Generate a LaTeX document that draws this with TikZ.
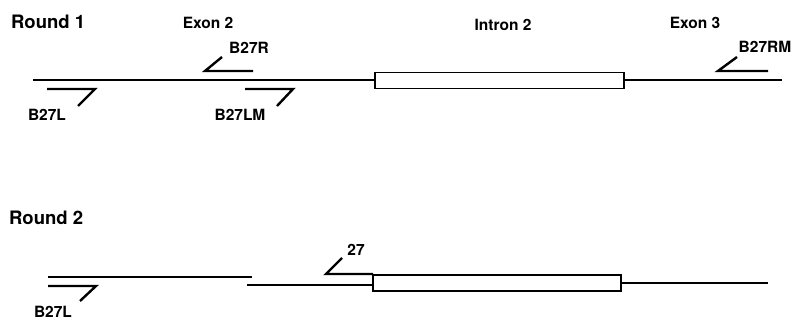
\documentclass[tikz,border=0pt]{standalone}
\usepackage{fontspec}
\setmainfont{TeX Gyre Heros}
\usepackage{tikz}
\usetikzlibrary{calc}

\tikzset{
  strand/.style={line width=2pt},
  primer/.style={line width=2.4pt},
  intron/.style={line width=1.8pt, fill=white},
  lbl/.style={inner sep=0pt, font=\bfseries\fontsize{15.5}{16}\selectfont},
  roundlbl/.style={inner sep=0pt, anchor=west, font=\bfseries\fontsize{18.5}{19}\selectfont}
}

\begin{document}
\begin{tikzpicture}[x=1pt,y=-1pt]
                \useasboundingbox (0,0) rectangle (795,320);
                % round 1
                \node[roundlbl] (R1) at (11,22) {Round 1};
                \node[lbl] (ExII) at (208,23) {Exon 2};
                \node[lbl] (InII) at (503,25) {Intron 2};
                \node[lbl] (ExIII) at (695,23) {Exon 3};
                \coordinate (A1) at (33,80);
                \coordinate (A2) at (375,80);
                \coordinate (A3) at (624,80);
                \coordinate (A4) at (782,80);
                \draw[strand] (A1) -- (A2);
                \draw[strand] (A3) -- (A4);
                \draw[intron] (375,72.5) rectangle (624,88.5);
                % primers, round 1
                \coordinate (L1) at (47,89);
                \coordinate (L2) at (95,89);
                \coordinate (L3) at (78,106);
                \draw[primer] (L1) -- (L2) -- (L3);
                \node[lbl] (B27L) at (47,115) {B27L};
                \coordinate (R1a) at (253,71);
                \coordinate (R1b) at (205,71);
                \coordinate (R1c) at (222,57);
                \draw[primer] (R1a) -- (R1b) -- (R1c);
                \node[lbl] (B27R) at (249,48) {B27R};
                \coordinate (LM1) at (245,89);
                \coordinate (LM2) at (293,89);
                \coordinate (LM3) at (277,106);
                \draw[primer] (LM1) -- (LM2) -- (LM3);
                \node[lbl] (B27LM) at (240,115) {B27LM};
                \coordinate (RM1) at (768,71);
                \coordinate (RM2) at (718,71);
                \coordinate (RM3) at (737,57);
                \draw[primer] (RM1) -- (RM2) -- (RM3);
                \node[lbl] (B27RM) at (765,47) {B27RM};
                % round 2
                \node[roundlbl] (R2) at (9,218) {Round 2};
                \coordinate (T1) at (48,277);
                \coordinate (T2) at (252,277);
                \coordinate (U1) at (247,285);
                \coordinate (U2) at (373,285);
                \coordinate (U3) at (621,283);
                \coordinate (U4) at (768,283);
                \draw[strand] (T1) -- (T2);
                \draw[strand] (U1) -- (U2);
                \draw[strand] (U3) -- (U4);
                \draw[intron] (373,275) rectangle (621,291);
                \coordinate (P1) at (48,286);
                \coordinate (P2) at (96,286);
                \coordinate (P3) at (80,301);
                \draw[primer] (P1) -- (P2) -- (P3);
                \node[lbl] (B27Lb) at (53,312) {B27L};
                \coordinate (Q1) at (373,274);
                \coordinate (Q2) at (326,274);
                \coordinate (Q3) at (342,258);
                \draw[primer] (Q1) -- (Q2) -- (Q3);
                \node[lbl] (N27) at (356,250) {27};
            \end{tikzpicture}
\end{document}
